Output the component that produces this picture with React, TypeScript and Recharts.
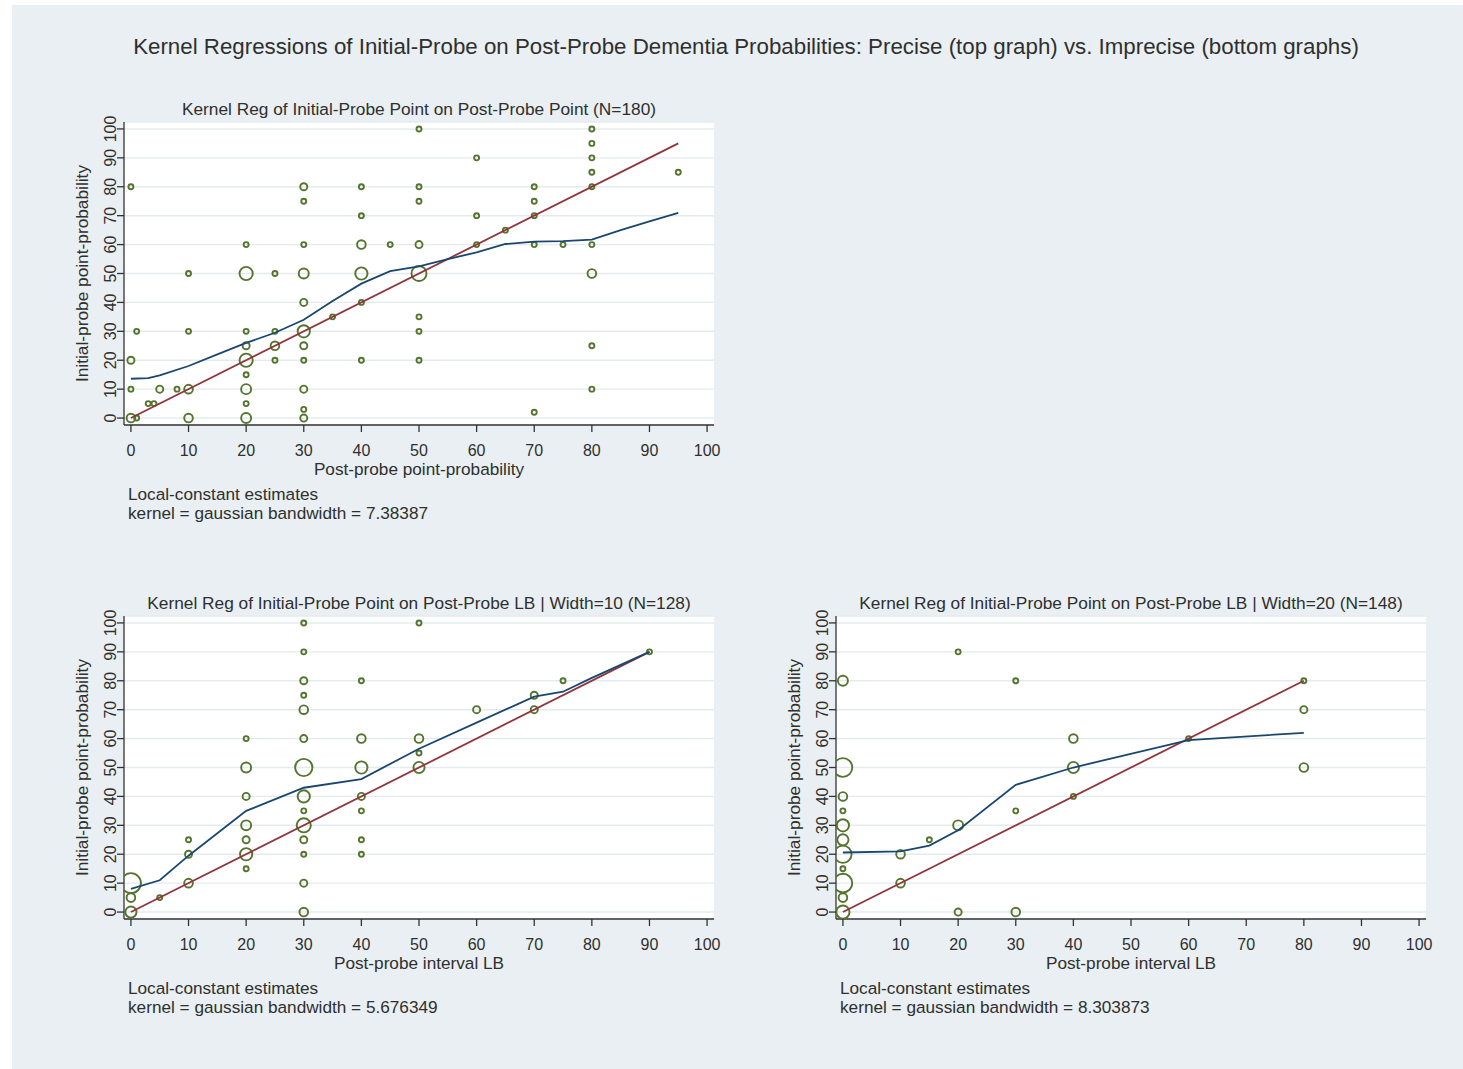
// Dependencies
import { ScatterChart, Scatter, XAxis, YAxis, ZAxis, CartesianGrid } from 'recharts';

// Types
interface Pt {
  x: number;
  y: number;
  n?: number;
}

// Shared axis ticks (both axes are probabilities 0-100)
const probabilityTicks = [0, 10, 20, 30, 40, 50, 60, 70, 80, 90, 100];

// Top graph: post-probe point (x) vs initial-probe point (y), n = respondents at that spot
const precisePoints: Pt[] = [
  { x: 0, y: 80, n: 1 }, { x: 0, y: 20, n: 2 }, { x: 0, y: 10, n: 1 }, { x: 0, y: 0, n: 3 },
  { x: 1, y: 0, n: 1 }, { x: 1, y: 30, n: 1 }, { x: 3, y: 5, n: 1 }, { x: 4, y: 5, n: 1 },
  { x: 5, y: 10, n: 2 }, { x: 8, y: 10, n: 1 },
  { x: 10, y: 50, n: 1 }, { x: 10, y: 30, n: 1 }, { x: 10, y: 10, n: 3 }, { x: 10, y: 0, n: 3 },
  { x: 20, y: 60, n: 1 }, { x: 20, y: 50, n: 7 }, { x: 20, y: 30, n: 1 }, { x: 20, y: 25, n: 2 },
  { x: 20, y: 20, n: 7 }, { x: 20, y: 15, n: 1 }, { x: 20, y: 10, n: 4 }, { x: 20, y: 5, n: 1 },
  { x: 20, y: 0, n: 4 },
  { x: 25, y: 50, n: 1 }, { x: 25, y: 30, n: 1 }, { x: 25, y: 25, n: 3 }, { x: 25, y: 20, n: 1 },
  { x: 30, y: 80, n: 2 }, { x: 30, y: 75, n: 1 }, { x: 30, y: 60, n: 1 }, { x: 30, y: 50, n: 4 },
  { x: 30, y: 40, n: 2 }, { x: 30, y: 30, n: 6 }, { x: 30, y: 25, n: 2 }, { x: 30, y: 20, n: 1 },
  { x: 30, y: 10, n: 2 }, { x: 30, y: 3, n: 1 }, { x: 30, y: 0, n: 2 },
  { x: 35, y: 35, n: 1 },
  { x: 40, y: 80, n: 1 }, { x: 40, y: 70, n: 1 }, { x: 40, y: 60, n: 3 }, { x: 40, y: 50, n: 6 },
  { x: 40, y: 40, n: 1 }, { x: 40, y: 20, n: 1 },
  { x: 45, y: 60, n: 1 },
  { x: 50, y: 100, n: 1 }, { x: 50, y: 80, n: 1 }, { x: 50, y: 75, n: 1 }, { x: 50, y: 60, n: 2 },
  { x: 50, y: 50, n: 9 }, { x: 50, y: 35, n: 1 }, { x: 50, y: 30, n: 1 }, { x: 50, y: 20, n: 1 },
  { x: 60, y: 90, n: 1 }, { x: 60, y: 70, n: 1 }, { x: 60, y: 60, n: 1 }, { x: 65, y: 65, n: 1 },
  { x: 70, y: 80, n: 1 }, { x: 70, y: 75, n: 1 }, { x: 70, y: 70, n: 1 }, { x: 70, y: 60, n: 1 },
  { x: 70, y: 2, n: 1 }, { x: 75, y: 60, n: 1 },
  { x: 80, y: 100, n: 1 }, { x: 80, y: 95, n: 1 }, { x: 80, y: 90, n: 1 }, { x: 80, y: 85, n: 1 },
  { x: 80, y: 80, n: 1 }, { x: 80, y: 60, n: 1 }, { x: 80, y: 50, n: 3 }, { x: 80, y: 25, n: 1 },
  { x: 80, y: 10, n: 1 },
  { x: 95, y: 85, n: 1 },
];
const preciseKernel: Pt[] = [
  { x: 0, y: 13.6 }, { x: 3, y: 13.8 }, { x: 5, y: 14.8 }, { x: 10, y: 18 }, { x: 15, y: 22 },
  { x: 20, y: 26 }, { x: 25, y: 29.5 }, { x: 30, y: 34 }, { x: 35, y: 40.5 }, { x: 40, y: 46.5 },
  { x: 45, y: 50.8 }, { x: 50, y: 52.5 }, { x: 55, y: 55 }, { x: 60, y: 57.3 }, { x: 65, y: 60.2 },
  { x: 70, y: 61 }, { x: 75, y: 61.2 }, { x: 80, y: 61.7 }, { x: 85, y: 65 }, { x: 90, y: 68 },
  { x: 95, y: 71 },
];
const preciseDiagonal: Pt[] = [{ x: 0, y: 0 }, { x: 95, y: 95 }];

// Bottom-left: interval lower bound, width 10
const width10Points: Pt[] = [
  { x: 0, y: 10, n: 16 }, { x: 0, y: 5, n: 3 }, { x: 0, y: 0, n: 5 }, { x: 5, y: 5, n: 1 },
  { x: 10, y: 25, n: 1 }, { x: 10, y: 20, n: 2 }, { x: 10, y: 10, n: 3 },
  { x: 20, y: 60, n: 1 }, { x: 20, y: 50, n: 4 }, { x: 20, y: 40, n: 2 }, { x: 20, y: 30, n: 4 },
  { x: 20, y: 25, n: 2 }, { x: 20, y: 20, n: 6 }, { x: 20, y: 15, n: 1 },
  { x: 30, y: 100, n: 1 }, { x: 30, y: 90, n: 1 }, { x: 30, y: 80, n: 2 }, { x: 30, y: 75, n: 1 },
  { x: 30, y: 70, n: 3 }, { x: 30, y: 60, n: 2 }, { x: 30, y: 50, n: 12 }, { x: 30, y: 40, n: 6 },
  { x: 30, y: 35, n: 1 }, { x: 30, y: 30, n: 8 }, { x: 30, y: 25, n: 2 }, { x: 30, y: 20, n: 1 },
  { x: 30, y: 10, n: 2 }, { x: 30, y: 0, n: 3 },
  { x: 40, y: 80, n: 1 }, { x: 40, y: 60, n: 3 }, { x: 40, y: 50, n: 6 }, { x: 40, y: 40, n: 2 },
  { x: 40, y: 35, n: 1 }, { x: 40, y: 25, n: 1 }, { x: 40, y: 20, n: 1 },
  { x: 50, y: 100, n: 1 }, { x: 50, y: 60, n: 3 }, { x: 50, y: 55, n: 1 }, { x: 50, y: 50, n: 5 },
  { x: 60, y: 70, n: 2 }, { x: 70, y: 75, n: 2 }, { x: 70, y: 70, n: 2 }, { x: 75, y: 80, n: 1 },
  { x: 90, y: 90, n: 1 },
];
const width10Kernel: Pt[] = [
  { x: 0, y: 8 }, { x: 5, y: 11 }, { x: 10, y: 19.5 }, { x: 20, y: 35 }, { x: 30, y: 43 },
  { x: 40, y: 46 }, { x: 50, y: 56.5 }, { x: 60, y: 65.5 }, { x: 70, y: 74.5 }, { x: 75, y: 76.2 },
  { x: 80, y: 81 }, { x: 90, y: 90 },
];
const width10Diagonal: Pt[] = [{ x: 0, y: 0 }, { x: 90, y: 90 }];

// Bottom-right: interval lower bound, width 20
const width20Points: Pt[] = [
  { x: 0, y: 80, n: 4 }, { x: 0, y: 50, n: 14 }, { x: 0, y: 40, n: 3 }, { x: 0, y: 35, n: 1 },
  { x: 0, y: 30, n: 6 }, { x: 0, y: 25, n: 5 }, { x: 0, y: 20, n: 12 }, { x: 0, y: 15, n: 1 },
  { x: 0, y: 10, n: 14 }, { x: 0, y: 5, n: 3 }, { x: 0, y: 0, n: 7 },
  { x: 10, y: 20, n: 3 }, { x: 10, y: 10, n: 3 }, { x: 15, y: 25, n: 1 },
  { x: 20, y: 90, n: 1 }, { x: 20, y: 30, n: 4 }, { x: 20, y: 0, n: 2 },
  { x: 30, y: 80, n: 1 }, { x: 30, y: 35, n: 1 }, { x: 30, y: 0, n: 3 },
  { x: 40, y: 60, n: 3 }, { x: 40, y: 50, n: 5 }, { x: 40, y: 40, n: 1 },
  { x: 60, y: 60, n: 1 }, { x: 80, y: 80, n: 1 }, { x: 80, y: 70, n: 2 }, { x: 80, y: 50, n: 3 },
];
const width20Kernel: Pt[] = [
  { x: 0, y: 20.6 }, { x: 10, y: 21 }, { x: 15, y: 23 }, { x: 20, y: 28.3 }, { x: 30, y: 44 },
  { x: 40, y: 50 }, { x: 60, y: 59.5 }, { x: 80, y: 62 },
];
const width20Diagonal: Pt[] = [{ x: 0, y: 0 }, { x: 80, y: 80 }];

const FONT = "'Liberation Sans', Arial, Helvetica, sans-serif";
const TEXT = '#2f2f2f';
const GREEN = '#55752f';
const MAROON = '#90353b';
const NAVY = '#1a476f';

// plot area size (px) and its offset inside each chart svg
const PW = 590;
const PH = 303;
const AXIS_W = 64;
const TOP_M = 27;

const HollowCircle = (props: any) => {
  const r = props.size ? Math.sqrt(props.size / Math.PI) : props.width / 2;
  return <circle cx={props.cx} cy={props.cy} r={r} fill="none" stroke={GREEN} strokeWidth={1.9} />;
};

const NoMarker = () => <g />;

const XTick = ({ x, payload }: any) => (
  <text x={x} y={TOP_M + PH + 25} dy="0.35em" textAnchor="middle" fontSize={16} fill={TEXT} fontFamily={FONT}>
    {payload.value}
  </text>
);

const YTick = ({ y, payload }: any) => (
  <text
    x={AXIS_W - 14}
    y={y}
    dy="0.35em"
    textAnchor="middle"
    fontSize={16}
    fill={TEXT}
    fontFamily={FONT}
    transform={`rotate(-90 ${AXIS_W - 14} ${y})`}
  >
    {payload.value}
  </text>
);

interface PanelProps {
  left: number;
  top: number;
  points: Pt[];
  kernel: Pt[];
  diagonal: Pt[];
}

const Panel = ({ left, top, points, kernel, diagonal }: PanelProps) => (
  <div style={{ position: 'absolute', left: left - AXIS_W, top: top - TOP_M }}>
    <ScatterChart
      width={AXIS_W + PW + 26}
      height={TOP_M + PH + 45}
      margin={{ top: TOP_M, right: 26, bottom: 0, left: 0 }}
    >
      <CartesianGrid vertical={false} stroke="#e4ebee" strokeWidth={1.4} fill="#fff" />
      <XAxis
        type="number"
        dataKey="x"
        domain={[-1.2, 101.2]}
        ticks={probabilityTicks}
        interval={0}
        allowDataOverflow
        height={45}
        tickSize={7}
        axisLine={{ stroke: '#333', strokeWidth: 1.3 }}
        tickLine={{ stroke: '#333', strokeWidth: 1.3 }}
        tick={XTick}
      />
      <YAxis
        type="number"
        dataKey="y"
        domain={[-2.4, 102.4]}
        ticks={probabilityTicks}
        interval={0}
        allowDataOverflow
        width={AXIS_W}
        tickSize={7}
        axisLine={{ stroke: '#333', strokeWidth: 1.3 }}
        tickLine={{ stroke: '#333', strokeWidth: 1.3 }}
        tick={YTick}
      />
      <ZAxis type="number" dataKey="n" domain={[0, 16]} range={[0, 314]} />
      <Scatter data={points} shape={HollowCircle} isAnimationActive={false} />
      <Scatter
        data={diagonal}
        shape={NoMarker}
        stroke={MAROON}
        line={{ stroke: MAROON, strokeWidth: 1.8 }}
        isAnimationActive={false}
      />
      <Scatter
        data={kernel}
        shape={NoMarker}
        stroke={NAVY}
        line={{ stroke: NAVY, strokeWidth: 1.8 }}
        isAnimationActive={false}
      />
    </ScatterChart>
  </div>
);

interface PanelTextProps {
  left: number;
  top: number;
  title: string;
  xLabel: string;
  bandwidth: string;
}

const PanelText = ({ left, top, title, xLabel, bandwidth }: PanelTextProps) => (
  <g fontFamily={FONT} fill={TEXT}>
    <text x={left + PW / 2} y={top - 13} dy="0.35em" textAnchor="middle" fontSize={17.3}>
      {title}
    </text>
    <text
      x={left - 42}
      y={top + PH / 2}
      dy="0.35em"
      textAnchor="middle"
      fontSize={17.3}
      transform={`rotate(-90 ${left - 42} ${top + PH / 2})`}
    >
      Initial-probe point-probability
    </text>
    <text x={left + PW / 2} y={top + 347} dy="0.35em" textAnchor="middle" fontSize={17.2}>
      {xLabel}
    </text>
    <text x={left + 4} y={top + 372} dy="0.35em" fontSize={17.2}>
      Local-constant estimates
    </text>
    <text x={left + 4} y={top + 391} dy="0.35em" fontSize={17.2}>
      {`kernel = gaussian bandwidth = ${bandwidth}`}
    </text>
  </g>
);

const App = () => (
  <div style={{ position: 'absolute', left: 0, top: 0, width: 1463, height: 1069, background: '#fff', overflow: 'hidden' }}>
    <div style={{ position: 'absolute', left: 12, top: 5, width: 1451, height: 1064, background: '#e9eff2' }} />

    <Panel left={124} top={122} points={precisePoints} kernel={preciseKernel} diagonal={preciseDiagonal} />
    <Panel left={124} top={616} points={width10Points} kernel={width10Kernel} diagonal={width10Diagonal} />
    <Panel left={836} top={616} points={width20Points} kernel={width20Kernel} diagonal={width20Diagonal} />

    <svg width={1463} height={1069} style={{ position: 'absolute', left: 0, top: 0, pointerEvents: 'none' }}>
      <text x={746} y={46} dy="0.35em" textAnchor="middle" fontSize={22.3} fill={TEXT} fontFamily={FONT}>
        Kernel Regressions of Initial-Probe on Post-Probe Dementia Probabilities: Precise (top graph) vs. Imprecise (bottom graphs)
      </text>
      <PanelText
        left={124}
        top={122}
        title="Kernel Reg of Initial-Probe Point on Post-Probe Point (N=180)"
        xLabel="Post-probe point-probability"
        bandwidth="7.38387"
      />
      <PanelText
        left={124}
        top={616}
        title="Kernel Reg of Initial-Probe Point on Post-Probe LB | Width=10 (N=128)"
        xLabel="Post-probe interval LB"
        bandwidth="5.676349"
      />
      <PanelText
        left={836}
        top={616}
        title="Kernel Reg of Initial-Probe Point on Post-Probe LB | Width=20 (N=148)"
        xLabel="Post-probe interval LB"
        bandwidth="8.303873"
      />
    </svg>
  </div>
);

export default App;
